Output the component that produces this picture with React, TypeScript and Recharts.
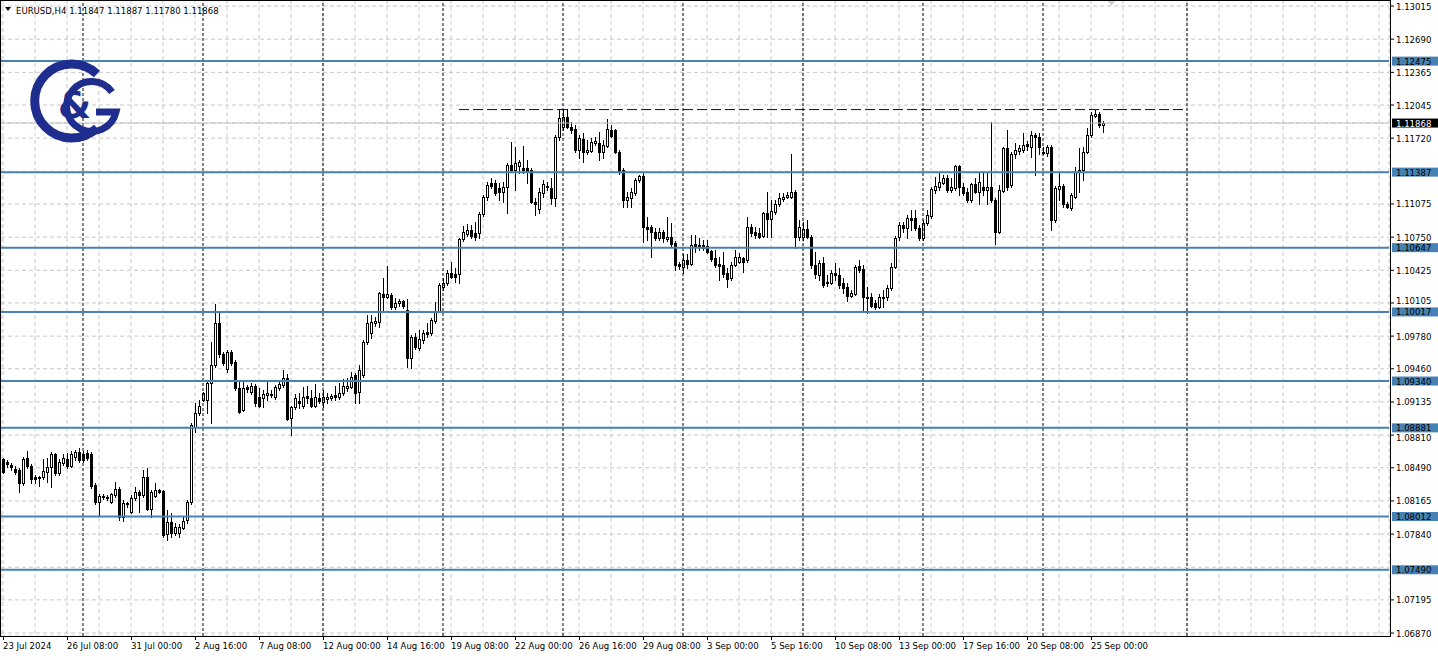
import React from "react";
import { ComposedChart, Bar, XAxis, YAxis, CartesianGrid, ReferenceLine } from "recharts";

// EURUSD H4, 23 Jul 2024 16:00 .. 25 Sep 2024 12:00
const opens = [
  1.0858, 1.0855, 1.0852, 1.0848, 1.0847, 1.0834, 1.0859, 1.0851, 1.084, 1.0839,
  1.084, 1.0845, 1.085, 1.0862, 1.0844, 1.0854, 1.0858, 1.0851, 1.086, 1.0864,
  1.0862, 1.0863, 1.0862, 1.0832, 1.0815, 1.082, 1.082, 1.0815, 1.0822, 1.0828,
  1.0801, 1.0814, 1.0806, 1.0819, 1.0825, 1.0822, 1.084, 1.0809, 1.0821, 1.0827,
  1.0826, 1.0784, 1.0796, 1.0785, 1.0785, 1.079, 1.0798, 1.0815, 1.0889, 1.0903,
  1.0915, 1.0915, 1.0932, 1.095, 1.0991, 1.096, 1.0946, 1.0962, 1.0953, 1.0927,
  1.0906, 1.0928, 1.0923, 1.0929, 1.0918, 1.0917, 1.092, 1.0921, 1.0918, 1.0927,
  1.093, 1.0937, 1.0898, 1.0909, 1.0914, 1.091, 1.0919, 1.0917, 1.091, 1.0917,
  1.0913, 1.0916, 1.0917, 1.092, 1.0918, 1.0922, 1.0927, 1.0928, 1.094, 1.0923,
  1.094, 1.0972, 1.0981, 1.0991, 1.0992, 1.1019, 1.1016, 1.1018, 1.1007, 1.101,
  1.1012, 1.1004, 1.0957, 1.0977, 1.0966, 1.0974, 1.0982, 1.0981, 1.0993, 1.1003,
  1.1026, 1.103, 1.104, 1.1039, 1.1039, 1.1073, 1.1078, 1.1082, 1.1079, 1.1079,
  1.1098, 1.1114, 1.1128, 1.1128, 1.1123, 1.1119, 1.1124, 1.1146, 1.1141, 1.1145,
  1.1143, 1.1143, 1.1141, 1.1109, 1.1103, 1.1118, 1.1125, 1.1123, 1.1113, 1.1173,
  1.1183, 1.1193, 1.1183, 1.1181, 1.116, 1.1171, 1.1158, 1.1159, 1.1167, 1.1167,
  1.1158, 1.1164, 1.118, 1.118, 1.1158, 1.1141, 1.1111, 1.1113, 1.1118, 1.1131,
  1.1135, 1.1085, 1.1085, 1.108, 1.1074, 1.108, 1.1073, 1.1075, 1.1069, 1.1049,
  1.1046, 1.1053, 1.1049, 1.1068, 1.1067, 1.1067, 1.1066, 1.1061, 1.1055, 1.1049,
  1.1048, 1.104, 1.1035, 1.1048, 1.1051, 1.1055, 1.1053, 1.1085, 1.108, 1.1079,
  1.1076, 1.1099, 1.1093, 1.11, 1.1107, 1.1112, 1.1114, 1.1114, 1.1119, 1.1075,
  1.1075, 1.1083, 1.1075, 1.1048, 1.1038, 1.105, 1.103, 1.103, 1.104, 1.1038,
  1.103, 1.1026, 1.1017, 1.1019, 1.1047, 1.1044, 1.1016, 1.1016, 1.101, 1.1007,
  1.1015, 1.1016, 1.1025, 1.1046, 1.1075, 1.1087, 1.1084, 1.1094, 1.1094, 1.1084,
  1.1074, 1.1089, 1.1096, 1.1121, 1.1124, 1.1128, 1.1133, 1.1121, 1.1123, 1.1145,
  1.1124, 1.1119, 1.1111, 1.1127, 1.1119, 1.1124, 1.1121, 1.1124, 1.1111, 1.108,
  1.112, 1.1162, 1.1126, 1.1156, 1.1159, 1.116, 1.1166, 1.1163, 1.1175, 1.1173,
  1.1158, 1.1157, 1.1163, 1.1092, 1.1122, 1.1125, 1.1107, 1.1104, 1.1114, 1.1139,
  1.1141, 1.1158, 1.1175, 1.1194, 1.1196, 1.11847,
];

const highs = [
  1.0859, 1.0857, 1.0854, 1.0851, 1.0849, 1.086, 1.0865, 1.0853, 1.0842, 1.0841,
  1.0858, 1.0859, 1.0864, 1.0863, 1.0858, 1.0862, 1.0863, 1.0865, 1.0866, 1.0868,
  1.0865, 1.0866, 1.0864, 1.0834, 1.0823, 1.0823, 1.0822, 1.0824, 1.0835, 1.083,
  1.0817, 1.0815, 1.0822, 1.083, 1.0827, 1.0847, 1.0849, 1.0827, 1.0834, 1.0828,
  1.0827, 1.0808, 1.0805, 1.0795, 1.0794, 1.0802, 1.0817, 1.0893, 1.0912, 1.0915,
  1.0923, 1.0934, 1.0972, 1.1009, 1.1002, 1.0962, 1.0964, 1.0964, 1.0955, 1.0934,
  1.0935, 1.093, 1.0932, 1.0931, 1.0927, 1.0925, 1.0933, 1.0925, 1.093, 1.0934,
  1.0945, 1.0941, 1.091, 1.0921, 1.0922, 1.0928, 1.0929, 1.0925, 1.0931, 1.0922,
  1.0925, 1.0922, 1.0921, 1.0929, 1.0932, 1.0936, 1.0937, 1.0943, 1.0942, 1.095,
  1.0974, 1.0999, 1.0999, 1.0997, 1.1021, 1.1035, 1.1047, 1.102, 1.1015, 1.1014,
  1.1013, 1.1014, 1.0979, 1.0981, 1.0984, 1.0984, 1.0991, 1.0996, 1.1011, 1.103,
  1.1035, 1.1043, 1.1051, 1.1045, 1.1074, 1.1086, 1.1088, 1.1087, 1.109, 1.11,
  1.1116, 1.1129, 1.1133, 1.1131, 1.1128, 1.1129, 1.1148, 1.1168, 1.1163, 1.1151,
  1.1164, 1.1151, 1.1143, 1.1113, 1.1123, 1.1131, 1.1129, 1.1133, 1.1175, 1.1201,
  1.1201, 1.1201, 1.1188, 1.1185, 1.1175, 1.1177, 1.117, 1.1172, 1.1173, 1.1178,
  1.117, 1.1191, 1.1185, 1.1181, 1.116, 1.1143, 1.1119, 1.1123, 1.1133, 1.1136,
  1.1139, 1.1095, 1.1087, 1.1084, 1.1084, 1.1082, 1.1095, 1.1089, 1.1071, 1.1051,
  1.1058, 1.1058, 1.1077, 1.1077, 1.1074, 1.1072, 1.1072, 1.1062, 1.1062, 1.1056,
  1.106, 1.1045, 1.1051, 1.1062, 1.1059, 1.1056, 1.1095, 1.1088, 1.1085, 1.1084,
  1.11, 1.1119, 1.1111, 1.1111, 1.1118, 1.1118, 1.1119, 1.1156, 1.1121, 1.1092,
  1.109, 1.1092, 1.1077, 1.106, 1.1053, 1.1056, 1.1038, 1.1043, 1.105, 1.1045,
  1.1035, 1.103, 1.1023, 1.1048, 1.1053, 1.1048, 1.1026, 1.102, 1.1013, 1.1019,
  1.1023, 1.1028, 1.105, 1.1076, 1.109, 1.109, 1.1097, 1.1102, 1.1102, 1.1087,
  1.1092, 1.1102, 1.1124, 1.1134, 1.1138, 1.1136, 1.1136, 1.1133, 1.1146, 1.1146,
  1.1128, 1.1123, 1.1128, 1.1133, 1.1139, 1.1139, 1.1139, 1.1188, 1.1113, 1.1126,
  1.1163, 1.118, 1.1158, 1.1167, 1.1165, 1.1177, 1.1169, 1.1179, 1.1177, 1.1177,
  1.1163, 1.1165, 1.1165, 1.1125, 1.1138, 1.1127, 1.1109, 1.1118, 1.1144, 1.1162,
  1.1163, 1.1182, 1.1198, 1.12, 1.1198, 1.11887,
];

const lows = [
  1.0844, 1.085, 1.0847, 1.0843, 1.0825, 1.0832, 1.0849, 1.0834, 1.0834, 1.0831,
  1.0838, 1.0835, 1.083, 1.0842, 1.0842, 1.0852, 1.0849, 1.085, 1.0857, 1.0855,
  1.0855, 1.0857, 1.0829, 1.0813, 1.0802, 1.0818, 1.0817, 1.0814, 1.082, 1.0798,
  1.0797, 1.0811, 1.0805, 1.0817, 1.0806, 1.082, 1.0808, 1.0801, 1.082, 1.0824,
  1.0781, 1.0778, 1.0781, 1.0783, 1.0781, 1.0789, 1.0795, 1.0813, 1.0884, 1.0901,
  1.0914, 1.0903, 1.0893, 1.0948, 1.0958, 1.095, 1.0943, 1.095, 1.0925, 1.0903,
  1.0905, 1.0923, 1.0921, 1.091, 1.0909, 1.0909, 1.0915, 1.0918, 1.0916, 1.0925,
  1.0928, 1.0896, 1.0881, 1.0907, 1.0908, 1.0908, 1.0912, 1.0909, 1.0909, 1.0912,
  1.0909, 1.0912, 1.0915, 1.0915, 1.0916, 1.092, 1.0924, 1.0927, 1.0912, 1.0912,
  1.0938, 1.097, 1.0976, 1.0988, 1.0987, 1.1004, 1.1015, 1.1005, 1.1005, 1.1008,
  1.1006, 1.0948, 1.0947, 1.0965, 1.0964, 1.0971, 1.0977, 1.0979, 1.0991, 1.1002,
  1.1023, 1.1028, 1.1035, 1.1031, 1.103, 1.1071, 1.1076, 1.1074, 1.1072, 1.1074,
  1.1096, 1.1111, 1.1123, 1.1116, 1.1111, 1.1109, 1.1099, 1.1139, 1.1121, 1.1138,
  1.1138, 1.1128, 1.1108, 1.1097, 1.1099, 1.1114, 1.1121, 1.1107, 1.1106, 1.117,
  1.118, 1.1182, 1.1177, 1.1158, 1.1153, 1.1149, 1.1156, 1.1158, 1.1165, 1.1151,
  1.1153, 1.1163, 1.1173, 1.1157, 1.1137, 1.1105, 1.1105, 1.1105, 1.1116, 1.1129,
  1.107, 1.1072, 1.1056, 1.1072, 1.1072, 1.107, 1.1071, 1.1065, 1.1043, 1.1044,
  1.104, 1.1045, 1.1048, 1.106, 1.1062, 1.1062, 1.1059, 1.1052, 1.1046, 1.1033,
  1.1036, 1.1026, 1.1033, 1.1047, 1.105, 1.1041, 1.1051, 1.1076, 1.1074, 1.1074,
  1.1075, 1.1075, 1.1075, 1.1098, 1.1106, 1.111, 1.1113, 1.1113, 1.1064, 1.1072,
  1.1072, 1.1074, 1.1045, 1.1035, 1.1033, 1.1026, 1.1027, 1.1029, 1.1033, 1.1025,
  1.102, 1.1012, 1.1016, 1.1018, 1.1041, 1.1004, 1.1001, 1.1007, 1.1005, 1.1006,
  1.1007, 1.1013, 1.1023, 1.1045, 1.1072, 1.108, 1.1074, 1.1082, 1.1082, 1.1072,
  1.1072, 1.1087, 1.1094, 1.1118, 1.1121, 1.1127, 1.1119, 1.1119, 1.1121, 1.1116,
  1.1116, 1.1109, 1.1109, 1.1118, 1.1107, 1.1116, 1.1107, 1.1109, 1.1068, 1.1079,
  1.1119, 1.1121, 1.1124, 1.1153, 1.1156, 1.1158, 1.116, 1.1154, 1.1136, 1.1156,
  1.1156, 1.1155, 1.1082, 1.109, 1.1111, 1.1105, 1.1104, 1.1102, 1.1113, 1.1119,
  1.1131, 1.1157, 1.1173, 1.1193, 1.1183, 1.1178,
];

const closes = [
  1.0845, 1.0853, 1.085, 1.0845, 1.0834, 1.0858, 1.0851, 1.0838, 1.0838, 1.084,
  1.0846, 1.085, 1.0862, 1.0844, 1.0855, 1.0859, 1.0851, 1.0862, 1.0864, 1.0857,
  1.0857, 1.0859, 1.0831, 1.0815, 1.0821, 1.0821, 1.0819, 1.0823, 1.0828, 1.0801,
  1.0814, 1.0813, 1.0819, 1.0825, 1.0822, 1.084, 1.0809, 1.0825, 1.0827, 1.0825,
  1.0783, 1.0796, 1.0785, 1.0791, 1.0791, 1.0797, 1.0815, 1.0891, 1.0903, 1.091,
  1.0922, 1.0932, 1.095, 1.0991, 1.096, 1.0952, 1.0962, 1.0952, 1.0927, 1.0904,
  1.0927, 1.0926, 1.0929, 1.0912, 1.091, 1.0921, 1.0922, 1.092, 1.0928, 1.0931,
  1.0937, 1.0897, 1.0909, 1.0917, 1.0912, 1.0918, 1.0917, 1.091, 1.0918, 1.0914,
  1.0918, 1.0918, 1.0919, 1.0918, 1.0922, 1.0929, 1.0929, 1.0938, 1.0922, 1.0945,
  1.0972, 1.0991, 1.0992, 1.0993, 1.102, 1.1016, 1.1019, 1.1007, 1.101, 1.1012,
  1.1008, 1.0957, 1.0977, 1.0967, 1.0975, 1.0981, 1.098, 1.0994, 1.1003, 1.1028,
  1.103, 1.104, 1.1036, 1.1036, 1.1073, 1.108, 1.1082, 1.1076, 1.1075, 1.1098,
  1.1114, 1.1126, 1.1125, 1.1118, 1.1119, 1.1124, 1.1146, 1.1141, 1.1148, 1.1149,
  1.1141, 1.1139, 1.1109, 1.1107, 1.1119, 1.1127, 1.1124, 1.1113, 1.1173, 1.1192,
  1.1193, 1.1183, 1.118, 1.116, 1.1172, 1.1158, 1.116, 1.1168, 1.1169, 1.1158,
  1.1165, 1.1181, 1.1174, 1.1158, 1.1139, 1.1111, 1.1114, 1.1119, 1.1131, 1.1135,
  1.1085, 1.1083, 1.108, 1.1074, 1.108, 1.1074, 1.1075, 1.1068, 1.1048, 1.1047,
  1.1053, 1.1049, 1.1067, 1.1066, 1.1065, 1.1064, 1.106, 1.1054, 1.1048, 1.1047,
  1.1039, 1.1034, 1.1048, 1.1056, 1.1056, 1.1051, 1.1085, 1.1079, 1.1077, 1.1075,
  1.1099, 1.1093, 1.1101, 1.1107, 1.1113, 1.1114, 1.1116, 1.1119, 1.1075, 1.1085,
  1.1083, 1.1075, 1.1048, 1.1039, 1.105, 1.1028, 1.1031, 1.104, 1.1038, 1.1028,
  1.1025, 1.1017, 1.102, 1.1046, 1.1043, 1.1016, 1.1015, 1.1008, 1.1007, 1.1016,
  1.1016, 1.1025, 1.1046, 1.1074, 1.1087, 1.1084, 1.1094, 1.1092, 1.1084, 1.1074,
  1.1089, 1.1097, 1.1122, 1.1125, 1.1129, 1.1133, 1.1121, 1.1124, 1.1145, 1.1124,
  1.1118, 1.1111, 1.1127, 1.1119, 1.1129, 1.1121, 1.1124, 1.1111, 1.108, 1.1121,
  1.1162, 1.1124, 1.1156, 1.116, 1.1162, 1.1165, 1.1164, 1.1175, 1.1173, 1.1163,
  1.1157, 1.1163, 1.1092, 1.1123, 1.1125, 1.1107, 1.1105, 1.1116, 1.1139, 1.1141,
  1.1158, 1.1175, 1.1195, 1.1196, 1.1185, 1.11868,
];

// one label every 16 bars, starting at bar 0
const timeLabels = [
  "23 Jul 2024", "26 Jul 08:00", "31 Jul 00:00", "2 Aug 16:00", "7 Aug 08:00",
  "12 Aug 00:00", "14 Aug 16:00", "19 Aug 08:00", "22 Aug 00:00", "26 Aug 16:00",
  "29 Aug 08:00", "3 Sep 00:00", "5 Sep 16:00", "10 Sep 08:00", "13 Sep 00:00",
  "17 Sep 16:00", "20 Sep 08:00", "25 Sep 00:00",
];

const priceTicks = [
  1.13015, 1.1269, 1.12365, 1.12045, 1.1172, 1.11395, 1.11075, 1.1075, 1.10425, 1.10105,
  1.0978, 1.0946, 1.09135, 1.0881, 1.0849, 1.08165, 1.0784, 1.07515, 1.07195, 1.0687,
];

const levels = [1.12475, 1.11387, 1.10647, 1.10017, 1.0934, 1.08881, 1.08012, 1.0749];
const lastPrice = 1.11868;
const resistance = { from: 114, to: 295, price: 1.12 };
const weekStarts = [20, 50, 80, 110, 140, 170, 200, 230, 260, 296];

const SLOTS = 347;
const Y_MIN = 1.068412;
const Y_MAX = 1.13074;
const FONT = '"DejaVu Sans Condensed", "Liberation Sans", sans-serif';
const NAVY = "#1f2d8f";

const rows = Array.from({ length: SLOTS }, (_, i) =>
  i < opens.length
    ? { i, o: opens[i], h: highs[i], l: lows[i], c: closes[i] }
    : { i }
);
const gridTicks = Array.from({ length: 44 }, (_, k) => k * 8);
const boxed = [...levels, lastPrice];

const Candle = (props: any) => {
  const { x, y, width, height, payload } = props;
  if (!payload || payload.o == null) return <g />;
  const { o, c } = payload;
  const h = Math.max(payload.h, o, c);
  const l = Math.min(payload.l, o, c);
  const top = Math.min(y, y + height);
  const span = Math.abs(height);
  const py = (v: number) => (h === l ? top : top + ((h - v) / (h - l)) * span);
  const cx = Math.round(x + width / 2) + 0.5;
  const yH = Math.round(py(h));
  const yL = Math.round(py(l));
  const yO = Math.round(py(o));
  const yC = Math.round(py(c));
  const bTop = Math.min(yO, yC);
  const bBot = Math.max(yO, yC);
  const bull = c >= o;
  return (
    <g shapeRendering="crispEdges">
      <line x1={cx} x2={cx} y1={yH} y2={yL + 1} stroke="#000" />
      {bBot === bTop ? (
        <line x1={cx - 1.5} x2={cx + 1.5} y1={bTop + 0.5} y2={bTop + 0.5} stroke="#000" />
      ) : (
        <rect x={cx - 1} y={bTop + 0.5} width={2} height={bBot - bTop} fill={bull ? "#fff" : "#000"} stroke="#000" />
      )}
    </g>
  );
};

const TimeTick = (props: any) => {
  const { x, y, payload } = props;
  const v = payload.value;
  if (v % 16 !== 0) return <g />;
  const label = timeLabels[v / 16];
  if (!label) return <g />;
  return (
    <g>
      <line x1={x + 0.5} x2={x + 0.5} y1={y} y2={y + 4} stroke="#000" />
      <text x={x} y={y + 13} fontSize={9.5} fontFamily={FONT} fill="#000">
        {label}
      </text>
    </g>
  );
};

const PriceTick = (props: any) => {
  const { x, y, payload } = props;
  const v = payload.value;
  const label = v.toFixed(5);
  if (boxed.includes(v)) {
    const dark = v === lastPrice;
    return (
      <g>
        <rect x={x + 3} y={y - 4.5} width={48} height={9} fill={dark ? "#000" : "#4682b4"} />
        <text x={x + 7} y={y + 3.5} fontSize={9.5} fontFamily={FONT} fill={dark ? "#fff" : "#000"}>
          {label}
        </text>
      </g>
    );
  }
  // labels hidden under a boxed label, nudged when just next to one
  const near = boxed.map((b) => b - v).sort((a, b) => Math.abs(a) - Math.abs(b))[0];
  if (Math.abs(near) < 0.0004) return <g />;
  const shift = Math.abs(near) < 0.0009 ? (near > 0 ? 2 : -2) : 0;
  return (
    <g>
      <line x1={x + 1} x2={x + 5} y1={y} y2={y} stroke="#000" />
      <text x={x + 7} y={y + 3.5 + shift} fontSize={9.5} fontFamily={FONT} fill="#000">
        {label}
      </text>
    </g>
  );
};

export default function App() {
  return (
    <div style={{ position: "relative", width: 1438, height: 660, background: "#fff" }}>
      <style>{"body{margin:0}"}</style>
      <ComposedChart width={1438} height={660} data={rows} margin={{ top: 0, right: 1, bottom: 0, left: 1 }}>
        <CartesianGrid stroke="#c8c8c8" strokeDasharray="4 3" />
        <XAxis
          dataKey="i"
          type="category"
          ticks={gridTicks}
          interval={0}
          height={24}
          tickSize={0}
          tickMargin={0}
          tickLine={false}
          axisLine={false}
          tick={<TimeTick />}
        />
        <YAxis
          orientation="right"
          type="number"
          domain={[Y_MIN, Y_MAX]}
          allowDataOverflow
          ticks={[...priceTicks, ...levels, lastPrice]}
          interval={0}
          width={48}
          tickSize={0}
          tickMargin={0}
          tickLine={false}
          axisLine={false}
          tick={<PriceTick />}
        />
        {weekStarts.map((w) => (
          <ReferenceLine key={`w${w}`} x={w} stroke="#000" strokeDasharray="3 2" />
        ))}
        <Bar
          dataKey={(d: any) => (d.o == null ? null : [Math.min(d.l, d.o, d.c), Math.max(d.h, d.o, d.c)])}
          shape={Candle}
          barSize={4}
          isAnimationActive={false}
        />
        <ReferenceLine y={lastPrice} stroke="#c0c0c0" />
        {levels.map((lv) => (
          <ReferenceLine key={`l${lv}`} y={lv} stroke="#4682b4" strokeWidth={2} />
        ))}
        <ReferenceLine
          segment={[
            { x: resistance.from, y: resistance.price },
            { x: resistance.to, y: resistance.price },
          ]}
          stroke="#000080"
          strokeDasharray="10 4"
        />
      </ComposedChart>
      <svg
        width={1438}
        height={660}
        style={{ position: "absolute", left: 0, top: 0, pointerEvents: "none" }}
      >
        <rect x={0.5} y={0.5} width={1390} height={636} fill="none" stroke="#000" shapeRendering="crispEdges" />
        <path d="M5 7 L11 7 L8 11 Z" fill="#000" />
        <text x={16} y={14} fontSize={9.5} fontFamily={FONT} fill="#000">
          EURUSD,H4  1.11847 1.11887 1.11780 1.11868
        </text>
        <path d="M1108 1 L1115 1 L1111.5 6 Z" fill="#d0d0d0" />
        <g fill="none" stroke={NAVY}>
          <path d="M97 74 A37 37 0 1 0 97 128" strokeWidth={9} />
          <path d="M112 92 A25 25 0 1 0 116 112 L96 112" strokeWidth={7} />
        </g>
        <text x={58} y={118} fontSize={38} fontWeight="bold" fontFamily="'DejaVu Sans', sans-serif" fill={NAVY}>
          &amp;
        </text>
      </svg>
    </div>
  );
}
